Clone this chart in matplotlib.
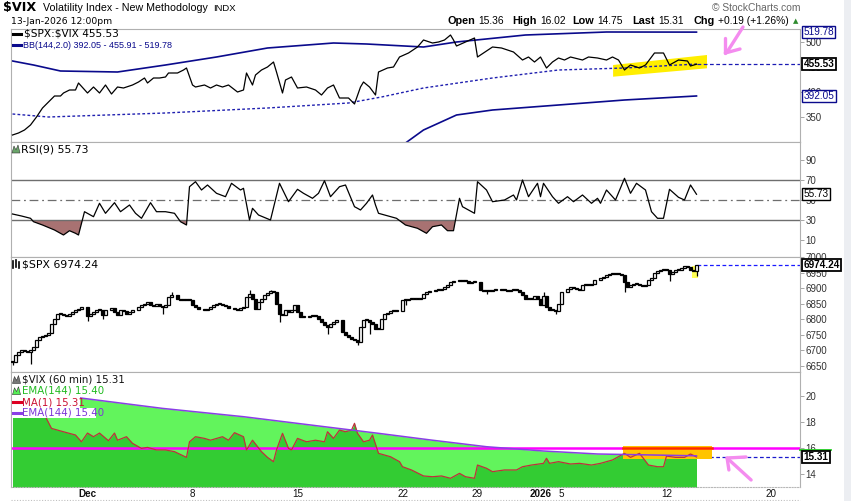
import numpy as np
import matplotlib
matplotlib.use("Agg")
import matplotlib.pyplot as plt
from matplotlib.patches import Polygon, Rectangle
import matplotlib.transforms as mtransforms

W, H = 851, 501

# x axis = hourly bar number (bar 0 = 24-Nov 9:30)
date_ticks = [25, 60, 95, 130, 155, 176, 183, 218, 253]
date_labels = ['Dec', '8', '15', '22', '29', '2026', '5', '12', '20']

# ---------------- panel 1: $SPX:$VIX + BB(144,2.0) ----------------
ratio_x = [0, 2, 4, 6, 8, 10, 12, 14, 16, 17, 19, 21, 22, 25, 27, 29, 31, 33, 35, 37,
           40, 42, 44, 45, 47, 49, 51, 52, 55, 57, 58, 60, 61, 64, 66, 68, 70, 72, 75, 77,
           78, 80, 81, 83, 85, 87, 88, 90, 91, 93, 95, 98, 101, 103, 105, 107, 109, 112, 114, 116,
           117, 119, 121, 122, 125, 127, 129, 132, 135, 137, 140, 142, 144, 146, 147, 148, 151, 154, 155, 157,
           160, 163, 167, 170, 172, 174, 176, 178, 180, 182, 184, 186, 190, 192, 195, 198, 200, 202, 204, 206,
           209, 211, 214, 217, 219, 222, 225, 226, 228]
ratio_y = [314, 318, 324, 334, 350, 368, 380, 392, 392, 398, 404, 404, 418, 398, 410, 398, 414, 396, 410, 408,
           414, 420, 428, 418, 428, 428, 430, 438, 438, 444, 448, 414, 410, 414, 408, 414, 410, 414, 400, 404,
           438, 414, 434, 444, 450, 460, 440, 398, 424, 430, 408, 410, 404, 394, 408, 414, 388, 388, 376, 410,
           420, 410, 394, 440, 448, 450, 470, 478, 490, 504, 498, 500, 504, 514, 504, 492, 500, 508, 470, 478,
           490, 488, 480, 464, 470, 460, 470, 448, 460, 468, 464, 470, 464, 470, 468, 464, 470, 464, 444, 454,
           448, 454, 478, 478, 454, 464, 462, 452, 455.53]

bb_up_x = [0, 7, 16, 35, 51, 68, 85, 107, 118, 137, 148, 171, 198, 228]
bb_up_y = [462, 454, 442, 440, 454, 470, 488, 498, 496, 490, 500, 514, 520, 519.78]
bb_mid_x = [0, 12, 51, 85, 112, 123, 137, 160, 182, 204, 228]
bb_mid_y = [356, 350, 358, 368, 378, 390, 408, 428, 444, 448, 455.91]
bb_lo_x = [124, 131, 137, 148, 160, 182, 204, 228]
bb_lo_y = [280, 298, 324, 354, 364, 374, 384, 392.05]

# ---------------- panel 2: RSI(9) ----------------
rsi_x = [0, 3, 6, 7, 10, 14, 17, 19, 21, 22, 24, 27, 29, 31, 34, 36, 39, 41, 43, 46,
         48, 51, 54, 56, 58, 59, 61, 63, 65, 68, 71, 73, 76, 77, 79, 80, 82, 86, 89, 92,
         95, 97, 100, 102, 104, 106, 109, 111, 114, 115, 116, 118, 120, 121, 122, 128, 131, 135, 138, 140,
         143, 145, 147, 149, 150, 154, 155, 158, 160, 164, 167, 168, 170, 172, 175, 176, 177, 180, 182, 185,
         187, 190, 193, 195, 196, 198, 201, 204, 206, 208, 211, 213, 215, 217, 219, 222, 224, 226, 228]
rsi_y = [36, 34, 31.7, 28.3, 25, 20, 15, 19.3, 16.7, 15, 38.3, 33.3, 46.7, 36.7, 47.3, 38.3, 45, 36.7, 31.7, 47.3,
         38.3, 38.3, 36.7, 28.3, 25, 63.3, 68.3, 60, 65, 56.7, 53.3, 66.7, 60, 61.7, 30, 41.7, 35, 30, 66.7, 48.3,
         60.7, 56.7, 51.7, 56.7, 69.3, 53.3, 63.3, 65, 43.3, 41.7, 40, 46.7, 55, 45, 36.7, 31.7, 25, 21.7, 16.7, 23.3,
         25, 19.3, 19.3, 51.7, 43.3, 36.7, 68.3, 60, 48.3, 50, 55, 50, 70, 53.3, 66.7, 53.3, 66.7, 53.3, 46.7, 53.3,
         48.3, 55, 46.7, 51.7, 46.7, 60, 50, 71.7, 56.7, 66.7, 60, 38.3, 31.7, 31.7, 60.7, 52.7, 50, 65, 55.73]

# ---------------- panel 3: $SPX hourly candles (closes) ----------------
spx_x = [0, 1, 2, 3, 4, 5, 6, 7, 8, 9, 10, 11, 12, 13, 14, 15, 16, 17, 18, 19,
         20, 21, 22, 23, 25, 26, 27, 28, 29, 30, 31, 33, 34, 35, 36, 37, 38, 39, 40, 42,
         43, 44, 45, 46, 47, 48, 49, 50, 51, 52, 53, 55, 56, 57, 58, 59, 60, 61, 62, 64,
         65, 66, 67, 68, 69, 70, 71, 72, 74, 75, 76, 77, 78, 79, 80, 81, 82, 83, 84, 85,
         86, 87, 88, 89, 90, 91, 92, 93, 94, 95, 96, 97, 99, 100, 101, 102, 103, 104, 105, 106,
         107, 108, 110, 111, 112, 113, 114, 115, 116, 117, 118, 119, 120, 121, 122, 123, 124, 125, 126, 127,
         128, 130, 131, 132, 133, 134, 135, 136, 137, 138, 139, 141, 142, 143, 144, 145, 146, 147, 149, 150,
         151, 152, 153, 154, 156, 157, 158, 159, 160, 161, 163, 164, 165, 166, 167, 168, 169, 170, 171, 172,
         173, 174, 175, 176, 177, 178, 179, 180, 181, 182, 183, 185, 186, 187, 188, 189, 190, 191, 192, 193,
         194, 196, 197, 198, 199, 200, 201, 202, 203, 204, 205, 206, 207, 208, 209, 210, 211, 212, 213, 214,
         215, 216, 217, 218, 219, 220, 221, 222, 223, 224, 225, 226, 227, 228]
spx_close = [6662.8, 6684.2, 6694.9, 6700.3, 6698.1, 6694.9, 6700.3, 6711.0, 6732.4, 6743.1,
             6745.2, 6748.4, 6755.9, 6785.9, 6802.0, 6815.9, 6815.9, 6812.7, 6809.5, 6815.9,
             6823.4, 6828.7, 6834.1, 6839.4, 6809.5, 6818.0, 6823.4, 6828.7, 6830.9, 6812.7,
             6828.7, 6837.3, 6823.4, 6812.7, 6828.7, 6826.6, 6815.9, 6823.4, 6830.9, 6839.4,
             6844.8, 6850.1, 6854.4, 6844.8, 6841.6, 6848.0, 6841.6, 6839.4, 6844.8, 6871.5,
             6876.9, 6866.2, 6863.0, 6865.1, 6863.0, 6860.8, 6844.8, 6839.4, 6834.1, 6830.9,
             6834.1, 6839.4, 6844.8, 6850.1, 6850.1, 6844.8, 6841.6, 6837.3, 6834.1, 6830.9,
             6837.3, 6839.4, 6871.5, 6882.2, 6866.2, 6834.1, 6855.5, 6866.2, 6876.9, 6884.4,
             6889.7, 6887.6, 6850.1, 6818.0, 6812.7, 6828.7, 6823.4, 6828.7, 6844.8, 6823.4,
             6807.3, 6807.3, 6809.5, 6812.7, 6809.5, 6802.0, 6791.3, 6780.5, 6775.2, 6785.9,
             6791.3, 6796.6, 6759.1, 6748.4, 6743.1, 6737.7, 6732.4, 6727.0, 6775.2, 6796.6,
             6796.6, 6791.3, 6785.9, 6769.8, 6769.8, 6802.0, 6815.9, 6820.2, 6826.6, 6826.6,
             6825.5, 6860.8, 6860.8, 6866.2, 6866.2, 6866.2, 6866.2, 6869.4, 6880.1, 6887.6,
             6890.8, 6893.0, 6895.1, 6898.3, 6903.7, 6909.0, 6919.7, 6922.9, 6927.2, 6922.9,
             6922.9, 6917.6, 6919.7, 6920.8, 6893.0, 6890.8, 6890.8, 6889.7, 6895.1, 6896.2,
             6895.1, 6893.0, 6890.8, 6893.0, 6893.0, 6893.0, 6887.6, 6876.9, 6866.2, 6866.2,
             6866.2, 6873.7, 6866.2, 6844.8, 6873.7, 6839.4, 6830.9, 6828.7, 6826.6, 6848.0,
             6887.6, 6898.3, 6903.7, 6901.5, 6898.3, 6895.1, 6909.0, 6914.4, 6909.0, 6912.2,
             6925.1, 6933.6, 6935.8, 6941.1, 6946.5, 6948.6, 6946.5, 6944.3, 6941.1, 6919.7,
             6903.7, 6909.0, 6914.4, 6914.4, 6909.0, 6905.8, 6909.0, 6927.2, 6933.6, 6948.6,
             6955.0, 6957.2, 6959.3, 6957.2, 6946.5, 6951.8, 6957.2, 6959.3, 6965.7, 6970.0,
             6967.9, 6959.3, 6955.0, 6974.24]
wick_lo_x = [0, 6, 25, 30, 50, 89, 105, 115, 119, 131, 158, 181, 204, 219, 228]
wick_lo_y = [6652, 6655, 6794, 6802, 6818, 6791, 6754, 6716, 6752, 6847, 6880, 6816, 6888, 6923, 6938]
wick_hi_x = [53, 79, 86, 177]
wick_hi_y = [6888, 6893, 6895, 6888]

# ---------------- panel 4: $VIX (60 min), EMA(144) ----------------
vix_x = [0, 4, 8, 11, 13, 17, 21, 23, 25, 27, 29, 32, 34, 35, 38, 40, 43, 45, 48, 51,
         54, 58, 59, 61, 64, 66, 70, 72, 74, 77, 78, 80, 83, 85, 87, 88, 90, 92, 93, 95,
         98, 101, 104, 105, 107, 109, 111, 113, 114, 115, 117, 119, 120, 122, 126, 129, 130, 133, 137, 140,
         143, 146, 149, 151, 154, 155, 158, 160, 164, 168, 170, 173, 177, 178, 179, 182, 186, 189, 193, 196,
         200, 204, 206, 209, 212, 215, 217, 218, 221, 224, 226, 228]
vix_y = [21.2, 20.3, 19.2, 18.41, 17.51, 17.25, 17.0, 16.48, 17.15, 16.87, 17.15, 16.56, 17.15, 16.6, 16.87, 16.36, 15.97, 16.05, 15.85, 15.85,
         15.72, 15.28, 16.48, 16.87, 16.74, 16.6, 16.87, 16.6, 17.18, 16.87, 15.85, 16.6, 15.72, 15.28, 14.95, 15.85, 17.13, 15.97, 15.85, 16.74,
         16.48, 16.6, 16.48, 17.25, 16.74, 17.38, 17.25, 17.38, 17.9, 17.13, 16.48, 16.6, 17.0, 15.59, 15.33, 14.95, 14.56, 14.31, 13.85, 13.79,
         13.85, 13.67, 14.05, 13.79, 13.67, 14.69, 14.44, 14.18, 14.31, 14.31, 14.56, 14.69, 14.82, 15.21, 14.82, 14.95, 14.77, 14.82, 14.69, 14.82,
         15.08, 15.59, 15.28, 15.59, 14.69, 14.56, 14.56, 15.38, 15.28, 15.28, 15.54, 15.31]
ema_x = [0, 22, 50, 77, 104, 122, 140, 158, 177, 195, 212, 228]
ema_y = [20.4, 19.87, 19.05, 18.41, 17.64, 17.13, 16.6, 16.1, 15.77, 15.54, 15.47, 15.40]
vix_ref = 16.0

# ---------------- layout ----------------
plt.rcParams['font.family'] = ['DejaVu Sans']
fig = plt.figure(figsize=(W / 100, H / 100), dpi=100)
fig.patch.set_facecolor('white')

def fx(px):
    return px / W

def fy(py):
    return 1 - py / H

XL = (-0.5, 262.5)
panels = [(29, 142), (142, 257), (257, 372), (372, 487)]
axes = []
for top, bot in panels:
    a = fig.add_axes([fx(11), fy(bot), fx(800) - fx(11), (bot - top) / H])
    a.set_xlim(*XL)
    for s in a.spines.values():
        s.set_color('#b0b0b0')
        s.set_linewidth(0.8)
    a.yaxis.tick_right()
    a.tick_params(axis='y', direction='out', length=3, width=0.6, color='#999999',
                  labelsize=7, labelcolor='#333333', pad=1)
    a.set_xticks([])
    axes.append(a)
ax1, ax2, ax3, ax4 = axes

def style_ticks(a):
    for lab in a.get_yticklabels():
        lab.set_family('Liberation Sans')

def tag(a, y, s, ec, tc, bold=False):
    tr = mtransforms.blended_transform_factory(a.transAxes, a.transData)
    a.text(1.0045, y, s, transform=tr, ha='left', va='center', fontsize=7.2,
           family='Liberation Sans', fontweight='bold' if bold else 'normal', color=tc,
           bbox=dict(boxstyle='square,pad=0.12', fc='white', ec=ec, lw=1.0 if not bold else 1.3),
           clip_on=False, zorder=20)

pink = '#f48cef'

# panel 1
ax1.set_ylim(300, 526)
ax1.set_yticks([350, 400, 450, 500])
style_ticks(ax1)
ax1.add_patch(Polygon([(200.2, 430.6), (200.2, 454), (231.5, 474), (231.5, 447.4)],
                      closed=True, fc='#ffee00', ec='none', zorder=1))
ax1.plot(bb_up_x, bb_up_y, color='#0a0a8c', lw=1.2, zorder=2)
ax1.plot(bb_lo_x, bb_lo_y, color='#0a0a8c', lw=1.2, zorder=2)
ax1.plot(bb_mid_x, bb_mid_y, color='#2020b0', lw=1.0, ls=(0, (2, 1.6)), zorder=2)
ax1.plot(ratio_x, ratio_y, color='black', lw=0.9, zorder=3)
ax1.plot([ratio_x[-1], XL[1]], [ratio_y[-1]] * 2, color='#1a1ab4', lw=0.9, ls=(0, (3, 2)), zorder=2)
for seg in [[(243.5, 530), (238.2, 480)], [(237.6, 478), (237.6, 508)], [(237.6, 478), (242.5, 486)]]:
    xs, ys = zip(*seg)
    ax1.plot(xs, ys, color=pink, lw=2.4, solid_capstyle='round', clip_on=False, zorder=6)
tag(ax1, bb_up_y[-1], '519.78', '#0a0a8c', '#0a0a8c')
tag(ax1, ratio_y[-1], '455.53', 'black', 'black', bold=True)
tag(ax1, bb_lo_y[-1], '392.05', '#0a0a8c', '#0a0a8c')

# panel 2
ax2.set_ylim(-7, 108)
ax2.set_yticks([10, 30, 50, 70, 90])
style_ticks(ax2)
rx = np.array(rsi_x, float)
ry = np.array(rsi_y, float)
ax2.fill_between(rx, ry, 30, where=ry < 30, interpolate=True, color='#a87272', lw=0, zorder=1)
ax2.axhline(70, color='#6e6e6e', lw=1.0, zorder=1)
ax2.axhline(30, color='#6e6e6e', lw=1.0, zorder=1)
ax2.axhline(50, color='#6e6e6e', lw=0.9, ls=(0, (7, 3, 1.5, 3)), zorder=1)
ax2.plot(rx, ry, color='black', lw=0.9, zorder=3)
tag(ax2, rsi_y[-1], '55.73', 'black', 'black')

# panel 3
ax3.set_ylim(6630.7, 7000)
ax3.set_yticks(np.arange(6650, 7001, 50))
style_ticks(ax3)
cx = np.array(spx_x, float)
cc = np.array(spx_close, float)
co = np.r_[cc[0], cc[:-1]]
lo = np.minimum(co, cc)
hi = np.maximum(co, cc)
hgt = np.maximum(hi - lo, 3.0)
up = cc >= co
body_lo = dict(zip(spx_x, lo))
body_hi = dict(zip(spx_x, hi))
ax3.add_patch(Rectangle((226.6, 6933), 1.9, 38, fc='#ffff55', ec='none', zorder=1))
ax3.vlines(wick_lo_x, wick_lo_y, [body_lo[i] for i in wick_lo_x], color='black', lw=0.9, zorder=2)
ax3.vlines(wick_hi_x, [body_hi[i] for i in wick_hi_x], wick_hi_y, color='black', lw=0.9, zorder=2)
ax3.bar(cx[up], hgt[up], bottom=lo[up], width=0.85, fc='white', ec='black', lw=0.9, zorder=3)
ax3.bar(cx[~up], hgt[~up], bottom=lo[~up], width=0.85, fc='black', ec='black', lw=0.9, zorder=3)
ax3.plot([cx[-1], XL[1]], [cc[-1]] * 2, color='#1a1aff', lw=0.9, ls=(0, (3, 2)), zorder=2)
tag(ax3, spx_close[-1], '6974.24', 'black', 'black', bold=True)

# panel 4
ax4.set_ylim(13.0, 21.85)
ax4.set_yticks([14, 16, 18, 20])
style_ticks(ax4)
ax4.fill_between(ema_x, ema_y, 0, color='#62f45c', lw=0, zorder=1)
ax4.fill_between(vix_x, vix_y, 0, color='#33cc33', lw=0, zorder=1.1)
ax4.axhline(vix_ref, color='#ff00ff', lw=1.8, zorder=2)
ax4.add_patch(Rectangle((203.5, 15.15), 29.7, 1.0, fc='#ffc400', ec='none', zorder=2.2))
ax4.plot([203.5, 233.2], [vix_ref, vix_ref], color='#ff2a00', lw=1.8, zorder=2.3)
ax4.plot(vix_x, vix_y, color='#c0303c', lw=0.9, zorder=3)
ax4.plot(ema_x, ema_y, color='#8a3ee6', lw=1.1, zorder=3.1)
ax4.plot([vix_x[-1], XL[1]], [vix_y[-1]] * 2, color='#1a1acc', lw=0.9, ls=(0, (3, 2)), zorder=2)
ax4.plot([XL[1], 272.8], [15.85, 15.85], color='#22cc22', lw=1.3, clip_on=False, zorder=5)
for seg in [[(246.2, 13.54), (238.8, 15.1)], [(238.2, 15.23), (238.8, 14.31)], [(238.2, 15.23), (244.5, 15.31)]]:
    xs, ys = zip(*seg)
    ax4.plot(xs, ys, color=pink, lw=2.4, solid_capstyle='round', zorder=6)
tag(ax4, vix_y[-1], '15.31', 'black', 'black', bold=True)
ax4.spines['bottom'].set_linestyle((0, (1, 1.5)))
ax4.spines['bottom'].set_color('#b8b8b8')

ax4.set_xticks(date_ticks)
ax4.set_xticklabels(date_labels)
ax4.tick_params(axis='x', direction='out', length=0, labelsize=7.1, labelcolor='#111111', pad=1.5)
for lab in ax4.get_xticklabels():
    lab.set_family('Liberation Sans')
    if lab.get_text() in ('Dec', '2026'):
        lab.set_fontweight('bold')

# ---------------- header and legends ----------------
fig.add_artist(Rectangle((fx(844), 0), fx(851) - fx(844), 1, transform=fig.transFigure,
                         fc='#eceef2', ec='none'))
fig.add_artist(plt.Line2D([fx(11), fx(800)], [fy(500), fy(500)], transform=fig.transFigure,
                          color='#c0c0c0', lw=0.8, ls=(0, (1, 1.5))))
fig.text(fx(3), fy(8), r'\$VIX', fontsize=9.2, fontweight='bold', va='center')
fig.text(fx(43), fy(8), 'Volatility Index - New Methodology', fontsize=7.7,
         family='Liberation Sans', va='center')
fig.text(fx(213), fy(8.5), 'INDX', fontsize=6.8, family='Liberation Sans', va='center')
fig.text(fx(11), fy(22), '13-Jan-2026 12:00pm', fontsize=6.7, va='center')
fig.text(fx(800), fy(8), '\u00a9 StockCharts.com', fontsize=7.4, family='Liberation Sans',
         color='#666666', ha='right', va='center')
hdr = [(448, 'Open', True), (478, '15.36', False), (512, 'High', True), (540, '16.02', False),
       (572, 'Low', True), (597, '14.75', False), (632, 'Last', True), (658, '15.31', False),
       (693, 'Chg', True), (718, '+0.19 (+1.26%)', False)]
for px, s, b in hdr:
    fig.text(fx(px), fy(21), s, fontsize=7.8 if b else 7.4, family='Liberation Sans',
             fontweight='bold' if b else 'normal', va='center')
fig.text(fx(793), fy(21), '\u25b2', fontsize=5, color='#2e8b2e', va='center')

def icon_line(px0, px1, py, color, lw=2.0):
    fig.add_artist(plt.Line2D([fx(px0), fx(px1)], [fy(py), fy(py)], transform=fig.transFigure,
                              color=color, lw=lw, zorder=2))

def icon_mountain(px, py, color):
    pts = [(px, py + 4), (px + 2, py - 3), (px + 4, py + 1), (px + 6, py - 4), (px + 8, py + 4)]
    fig.add_artist(Polygon([(fx(x), fy(y)) for x, y in pts], closed=True, transform=fig.transFigure,
                           fc=color, ec='#333333', lw=0.4, zorder=2))

icon_line(13, 21, 34, 'black', 2.2)
fig.text(fx(24), fy(34), r'\$SPX:\$VIX 455.53', fontsize=7.6, va='center')
icon_line(13, 21, 45, '#0a0a8c', 2.2)
fig.text(fx(23), fy(45), 'BB(144,2.0) 392.05 - 455.91 - 519.78', fontsize=6.5,
         family='Liberation Sans', color='#0a0a8c', va='center')

icon_mountain(12, 149, '#6aa56a')
fig.text(fx(21), fy(149), 'RSI(9) 55.73', fontsize=7.8, va='center')

for px, a, b in [(13, 261, 268), (16, 260, 267), (19, 262, 268)]:
    fig.add_artist(plt.Line2D([fx(px), fx(px)], [fy(a), fy(b)], transform=fig.transFigure,
                              color='black', lw=1.2, zorder=2))
fig.text(fx(22), fy(264.5), r'\$SPX 6974.24', fontsize=7.8, va='center')

rows = [(379.5, 373.5, 385, 139, r'\$VIX (60 min) 15.31', '#111111'),
        (390.7, 385, 396.3, 96, 'EMA(144) 15.40', '#22bb22'),
        (402.3, 396.3, 408, 80, 'MA(1) 15.31', '#cc1133'),
        (412.7, 408, 417.5, 96, 'EMA(144) 15.40', '#7b35d8')]
for yc, y0, y1, xend, s, col in rows:
    fig.add_artist(Rectangle((fx(11.5), fy(y1)), fx(xend) - fx(11.5), (y1 - y0) / H,
                             transform=fig.transFigure, fc='white', ec='none', zorder=1))
    fig.text(fx(22.5), fy(yc), s, fontsize=7.4, color=col, va='center', zorder=3)
icon_mountain(12.5, 379.5, '#777777')
icon_mountain(12.5, 390.7, '#55ee55')
icon_line(13, 21, 402.3, '#dd0022', 2.2)
icon_line(13, 21, 412.7, '#8a3ee6', 2.2)

fig.savefig('out.png', dpi=100)
